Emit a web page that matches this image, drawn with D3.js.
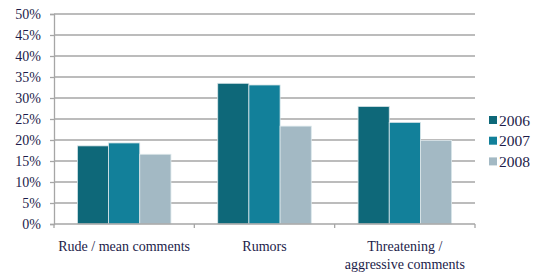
<!DOCTYPE html>
<html><head><meta charset="utf-8">
<script src="https://cdn.jsdelivr.net/npm/d3@7"></script>
<style>body{margin:0;background:#fff;} svg{display:block;}</style>
</head><body>
<svg id="c" width="538" height="275"></svg>
<script>
const categories = [["Rude / mean comments"], ["Rumors"], ["Threatening /", "aggressive comments"]];
const seriesNames = ["2006", "2007", "2008"];
const values2006 = [18.6, 33.5, 28.0];
const values2007 = [19.3, 33.1, 24.2];
const values2008 = [16.6, 23.3, 19.9];
const yTicks = [0, 5, 10, 15, 20, 25, 30, 35, 40, 45, 50];
const colors = ["#0e6879", "#12809a", "#a3b9c4"];

const series = [values2006, values2007, values2008];
const svg = d3.select("#c");
const m = {left: 54, right: 475, top: 14, bottom: 224};
const textColor = "#1c1c4a";
const font = '"Liberation Serif", "Times New Roman", serif';

const x0 = d3.scaleBand().domain(d3.range(categories.length)).range([m.left, m.right]).paddingInner(0).paddingOuter(0);
const x1 = d3.scaleBand().domain(d3.range(seriesNames.length)).range([0, x0.bandwidth()]).paddingInner(0).paddingOuter(0.75);
const y = d3.scaleLinear().domain([0, 50]).range([m.bottom, m.top]);

// gridlines
svg.append("g").selectAll("line").data(yTicks.filter(t => t > 0)).join("line")
  .attr("x1", m.left).attr("x2", m.right)
  .attr("y1", d => y(d)).attr("y2", d => y(d))
  .attr("stroke", "#a6a6a6").attr("stroke-width", 1.3);

// y axis
const yAxis = svg.append("g").attr("transform", `translate(${m.left},0)`)
  .call(d3.axisLeft(y).tickValues(yTicks).tickFormat(d => d + "%").tickSize(4).tickPadding(9));
yAxis.select(".domain").attr("stroke", "#a6a6a6").attr("stroke-width", 1.3);
yAxis.selectAll(".tick line").attr("stroke", "#a6a6a6").attr("stroke-width", 1.3);
yAxis.selectAll("text").style("font-family", font).attr("font-size", 14).attr("fill", textColor);

// bars
const g = svg.append("g");
categories.forEach((c, ci) => {
  series.forEach((vals, si) => {
    g.append("rect")
      .attr("x", x0(ci) + x1(si))
      .attr("y", y(vals[ci]))
      .attr("width", x1.bandwidth())
      .attr("height", y(0) - y(vals[ci]))
      .attr("fill", colors[si])
      .attr("stroke", "#dbe7ea").attr("stroke-width", 0.8);
  });
});

// x axis
const xAxis = svg.append("g").attr("transform", `translate(0,${m.bottom})`);
xAxis.append("line").attr("x1", m.left).attr("x2", m.right).attr("stroke", "#a6a6a6").attr("stroke-width", 1.3);
xAxis.selectAll("line.t").data(d3.range(categories.length + 1)).join("line").attr("class", "t")
  .attr("x1", d => m.left + d * x0.bandwidth()).attr("x2", d => m.left + d * x0.bandwidth())
  .attr("y1", 0).attr("y2", 4).attr("stroke", "#a6a6a6").attr("stroke-width", 1.3);
categories.forEach((lines, ci) => {
  const t = xAxis.append("text").attr("text-anchor", "middle")
    .style("font-family", font).attr("font-size", 14).attr("fill", textColor);
  lines.forEach((l, li) => {
    t.append("tspan").attr("x", x0(ci) + x0.bandwidth() / 2).attr("y", 27 + li * 18).text(l);
  });
});

// legend
const lg = svg.append("g").attr("transform", "translate(489,120)");
seriesNames.forEach((n, i) => {
  const r = lg.append("g").attr("transform", `translate(0,${i * 20.7})`);
  r.append("rect").attr("x", 0).attr("y", -4).attr("width", 8).attr("height", 8).attr("fill", colors[i]);
  r.append("text").attr("x", 10).attr("y", 5.5).style("font-family", font).attr("font-size", 15.5)
    .attr("fill", textColor).text(n);
});
</script>
</body></html>
